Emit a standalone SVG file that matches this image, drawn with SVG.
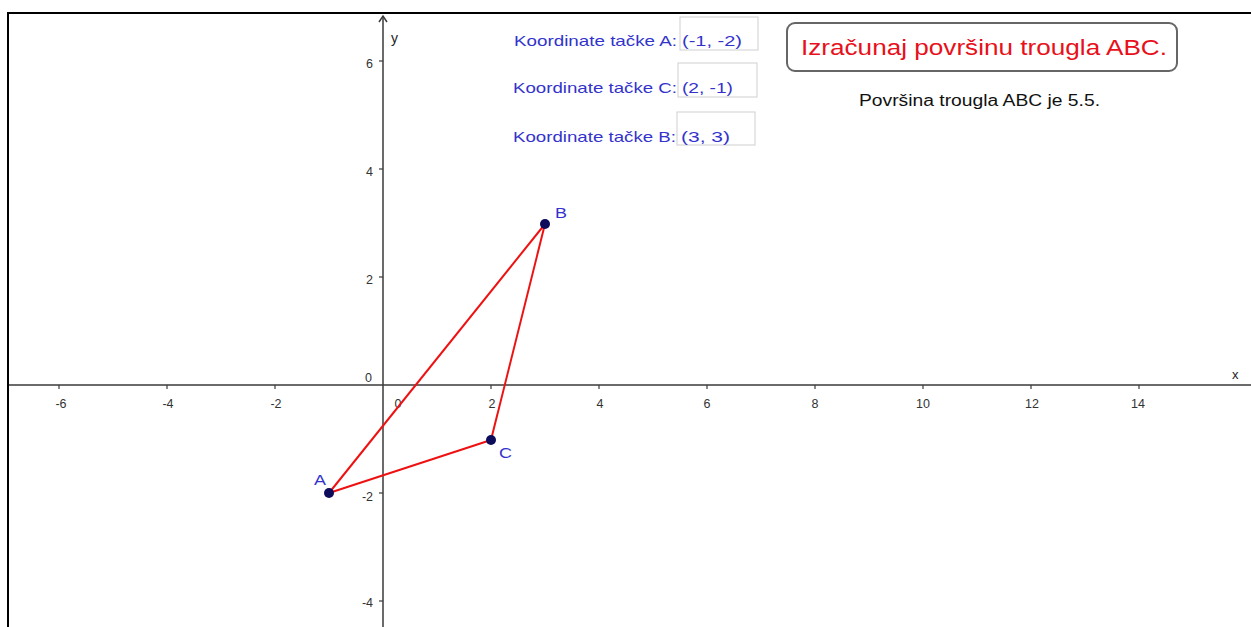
<svg xmlns="http://www.w3.org/2000/svg" width="1251" height="627" viewBox="0 0 1251 627">
<style>
.ax{stroke:#3a3a3a;stroke-width:1.5;fill:none}
.tk{stroke:#3a3a3a;stroke-width:1.2}
.num{font-family:"Liberation Sans",Arial,sans-serif;font-size:12.5px;fill:#333}
.lbl{font-family:"Liberation Sans",Arial,sans-serif;font-size:15px;fill:#3333cc}
.val{font-family:"Liberation Sans",Arial,sans-serif;font-size:15px;fill:#3333cc}
.box{fill:#fff;stroke:#cfcfcf;stroke-width:1}
.tri{stroke:#ee1111;stroke-width:2;fill:none;stroke-linejoin:round}
.pt{fill:#0c0c5a}
.plbl{font-family:"Liberation Sans",Arial,sans-serif;font-size:15px;fill:#3333cc}
</style>
<rect x="0" y="0" width="1251" height="627" fill="#fff"/>
<g id="frame">
<path d="M8 627 V13 H1251" stroke="#000" stroke-width="2" fill="none"/>
</g>
<g id="axes">
<line class="ax" x1="9" y1="385" x2="1251" y2="385"/>
<line class="ax" x1="383" y1="627" x2="383" y2="16"/>
<path class="ax" d="M379 22 L383 16 L387 22" stroke-width="1.2"/>
<g class="tk">
<line x1="59" y1="385" x2="59" y2="389"/>
<line x1="167" y1="385" x2="167" y2="389"/>
<line x1="275" y1="385" x2="275" y2="389"/>
<line x1="491" y1="385" x2="491" y2="389"/>
<line x1="599" y1="385" x2="599" y2="389"/>
<line x1="707" y1="385" x2="707" y2="389"/>
<line x1="815" y1="385" x2="815" y2="389"/>
<line x1="923" y1="385" x2="923" y2="389"/>
<line x1="1031" y1="385" x2="1031" y2="389"/>
<line x1="1139" y1="385" x2="1139" y2="389"/>
<line x1="379" y1="61" x2="383" y2="61"/>
<line x1="379" y1="169" x2="383" y2="169"/>
<line x1="379" y1="277" x2="383" y2="277"/>
<line x1="379" y1="493" x2="383" y2="493"/>
<line x1="379" y1="601" x2="383" y2="601"/>
</g>
<g class="num" text-anchor="middle">
<text x="61" y="408">-6</text>
<text x="168" y="408">-4</text>
<text x="276" y="408">-2</text>
<text x="398" y="408">0</text>
<text x="492" y="408">2</text>
<text x="600" y="408">4</text>
<text x="707" y="408">6</text>
<text x="815" y="408">8</text>
<text x="923" y="408">10</text>
<text x="1032" y="408">12</text>
<text x="1138" y="408">14</text>
</g>
<g class="num" text-anchor="end">
<text x="373" y="68">6</text>
<text x="373" y="176">4</text>
<text x="373" y="284">2</text>
<text x="372" y="382">0</text>
<text x="373" y="501">-2</text>
<text x="373" y="607">-4</text>
</g>
<text x="391" y="43" font-family="Liberation Sans,Arial,sans-serif" font-size="14" fill="#222">y</text>
<text x="1232" y="379" font-family="Liberation Sans,Arial,sans-serif" font-size="13" fill="#222">x</text>
</g>
<g id="connectors">
<line class="tri" x1="329" y1="493" x2="545" y2="224" stroke-width="1.7"/>
<line class="tri" x1="545" y1="224" x2="491" y2="440" stroke-width="2.6"/>
<line class="tri" x1="491" y1="440" x2="329" y2="493" stroke-width="2"/>
</g>
<g id="pointA">
<circle class="pt" cx="329" cy="493" r="5"/>
<text class="plbl" x="314" y="485" textLength="12" lengthAdjust="spacingAndGlyphs">A</text>
</g>
<g id="pointB">
<circle class="pt" cx="545" cy="224" r="5"/>
<text class="plbl" x="555" y="218" textLength="12" lengthAdjust="spacingAndGlyphs">B</text>
</g>
<g id="pointC">
<circle class="pt" cx="491" cy="440" r="5"/>
<text class="plbl" x="499" y="458" textLength="13" lengthAdjust="spacingAndGlyphs">C</text>
</g>
<g id="inputA">
<text class="lbl" x="514" y="46" textLength="163" lengthAdjust="spacingAndGlyphs">Koordinate tačke A:</text>
<rect class="box" x="680" y="17" width="78" height="33"/>
<text class="val" x="682" y="46" textLength="60" lengthAdjust="spacingAndGlyphs">(-1, -2)</text>
</g>
<g id="inputC">
<text class="lbl" x="513" y="93" textLength="164" lengthAdjust="spacingAndGlyphs">Koordinate tačke C:</text>
<rect class="box" x="678" y="63" width="79" height="34"/>
<text class="val" x="682" y="93" textLength="51" lengthAdjust="spacingAndGlyphs">(2, -1)</text>
</g>
<g id="inputB">
<text class="lbl" x="513" y="142" textLength="163" lengthAdjust="spacingAndGlyphs">Koordinate tačke B:</text>
<rect class="box" x="677" y="112" width="78" height="33"/>
<text class="val" x="681" y="142" textLength="49" lengthAdjust="spacingAndGlyphs">(3, 3)</text>
</g>
<g id="button">
<rect x="787" y="23" width="390" height="48" rx="8" ry="8" fill="#fff" stroke="#666" stroke-width="2"/>
<text x="801" y="55" font-family="Liberation Sans,Arial,sans-serif" font-size="22" fill="#e8101a" textLength="366" lengthAdjust="spacingAndGlyphs">Izračunaj površinu trougla ABC.</text>
</g>
<g id="result">
<text x="859" y="106" font-family="Liberation Sans,Arial,sans-serif" font-size="16" fill="#111" textLength="241" lengthAdjust="spacingAndGlyphs">Površina trougla ABC je 5.5.</text>
</g>
</svg>
